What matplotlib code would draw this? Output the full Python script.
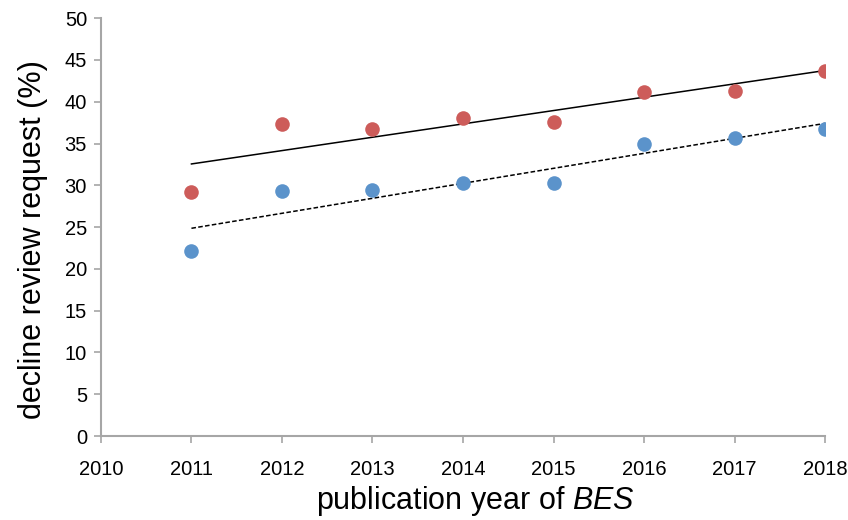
import numpy as np
import matplotlib
matplotlib.use("Agg")
import matplotlib.pyplot as plt

plt.rcParams['font.family'] = ['Liberation Sans', 'DejaVu Sans']
plt.rcParams['mathtext.fontset'] = 'custom'
plt.rcParams['mathtext.rm'] = 'Liberation Sans'
plt.rcParams['mathtext.it'] = 'Liberation Sans:italic'

years = [2011, 2012, 2013, 2014, 2015, 2016, 2017, 2018]
red_vals = [29.2, 37.3, 36.8, 38.1, 37.6, 41.2, 41.3, 43.7]
blue_vals = [22.2, 29.3, 29.5, 30.3, 30.3, 35.0, 35.7, 36.8]

red_col = '#CD5C5A'
blue_col = '#5B93CB'
axis_col = '#A6A6A6'

fig = plt.figure(figsize=(8.48, 5.2), dpi=100)
ax = fig.add_axes([0.119, 0.1615, 0.854, 0.8035])

x = np.array(years)
# linear trend lines
for vals, ls in [(red_vals, '-'), (blue_vals, (0, (3, 1.5)))]:
    a, b = np.polyfit(x, vals, 1)
    ax.plot(x, a * x + b, color='black', linestyle=ls, linewidth=1.1, zorder=2)

ax.plot(years, red_vals, 'o', color=red_col, markersize=10.5, markeredgewidth=0, zorder=3)
ax.plot(years, blue_vals, 'o', color=blue_col, markersize=10.5, markeredgewidth=0, zorder=3)

ax.set_xlim(2010, 2018)
ax.set_ylim(0, 50)
ax.set_xticks(range(2010, 2019))
ax.set_yticks(range(0, 51, 5))
ax.tick_params(axis='both', colors=axis_col, labelcolor='black', labelsize=14.5,
               length=5, width=1.2, direction='out')
ax.tick_params(axis='x', pad=12)
ax.tick_params(axis='y', pad=5)

for side in ['top', 'right']:
    ax.spines[side].set_visible(False)
for side in ['left', 'bottom']:
    ax.spines[side].set_color(axis_col)
    ax.spines[side].set_linewidth(1.5)

ax.set_ylabel('decline review request (%)', fontsize=22, labelpad=12)
ax.yaxis.label.set_y(0.47)
ax.set_xlabel('publication year of $\\it{BES}$', fontsize=22, labelpad=4)
ax.xaxis.label.set_x(0.517)

fig.savefig('out.png', dpi=100)
